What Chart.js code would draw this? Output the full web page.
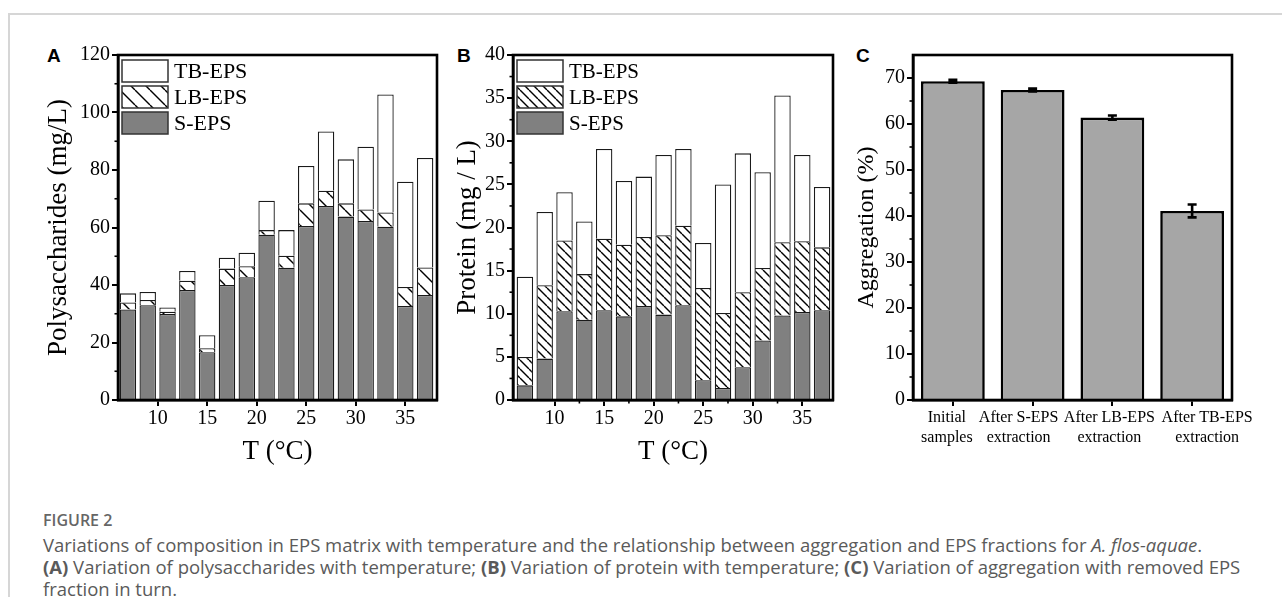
<!DOCTYPE html>
<html>
<head>
<meta charset="utf-8">
<title>EPS composition and aggregation</title>
<script src="https://cdn.jsdelivr.net/npm/chart.js@4.4.1/dist/chart.umd.min.js"></script>
<style>
  body { margin: 0; background: #fff; width: 1282px; height: 597px; overflow: hidden; position: relative; font-family: "Open Sans", "Noto Sans", sans-serif; }
  canvas { position: absolute; top: 0; }
  #frameTop { position: absolute; left: 9px; top: 13px; width: 1273px; height: 2px; background: #d6d6d6; }
  #frameLeft { position: absolute; left: 8px; top: 13px; width: 2px; height: 584px; background: #d6d6d6; }
  .lab { position: absolute; top: 46px; font: bold 19px "Liberation Sans", Arial, sans-serif; color: #000; line-height: 19px; }
  #figno { position: absolute; left: 43px; top: 510px; font-size: 16px; font-weight: 600; color: #666; line-height: 20px; }
  #cap { position: absolute; left: 43px; top: 534px; font-size: 18.5px; line-height: 22px; color: #5a5a5a; white-space: nowrap; }
</style>
</head>
<body>
<div id="frameTop"></div>
<div id="frameLeft"></div>
<div class="lab" style="left:47px">A</div>
<div class="lab" style="left:457px">B</div>
<div class="lab" style="left:856px">C</div>

<canvas id="grafA" width="445" height="480" style="left:0px"></canvas>
<canvas id="grafB" width="410" height="480" style="left:430px"></canvas>
<canvas id="grafC" width="442" height="480" style="left:840px"></canvas>

<div id="figno">FIGURE 2</div>
<div id="cap">Variations of composition in EPS matrix with temperature and the relationship between aggregation and EPS fractions for <i>A. flos-aquae</i>.<br><b>(A)</b> Variation of polysaccharides with temperature; <b>(B)</b> Variation of protein with temperature; <b>(C)</b> Variation of aggregation with removed EPS<br>fraction in turn.</div>

<script>
// temperaturas (°C)
var temps = [7, 9, 11, 13, 15, 17, 19, 21, 23, 25, 27, 29, 31, 33, 35, 37];
var tempTicks = [10, 15, 20, 25, 30, 35];

// Gráfico A - polissacarídeos (mg/L), cada fração empilhada
var polyS  = [31.5, 33.0, 29.9, 38.3, 16.6, 40.0, 42.7, 57.5, 46.0, 60.5, 67.5, 63.8, 62.3, 60.3, 32.7, 36.5];
var polyLB = [2.4, 1.8, 0.8, 3.2, 1.4, 5.7, 3.8, 1.6, 4.2, 7.9, 5.3, 4.6, 4.0, 4.9, 6.6, 9.6];
var polyTB = [3.2, 2.8, 1.5, 3.4, 4.5, 3.8, 4.7, 10.2, 8.9, 13.0, 20.6, 15.3, 21.8, 41.1, 36.6, 38.1];
var polyTicks = [0, 20, 40, 60, 80, 100, 120];

// Gráfico B - proteína (mg / L)
var protS  = [1.7, 4.8, 10.3, 9.3, 10.4, 9.7, 10.9, 9.9, 11.0, 2.3, 1.4, 3.8, 6.9, 9.8, 10.2, 10.4];
var protLB = [3.3, 8.5, 8.2, 5.3, 8.3, 8.3, 8.0, 9.2, 9.2, 10.7, 8.7, 8.7, 8.4, 8.5, 8.2, 7.3];
var protTB = [9.3, 8.5, 5.6, 6.1, 10.4, 7.4, 7.0, 9.3, 8.9, 5.2, 14.9, 16.1, 11.1, 17.0, 10.0, 7.0];
var protTicks = [0, 5, 10, 15, 20, 25, 30, 35, 40];

// Gráfico C - agregação (%)
var aggLabels = [["Initial", "samples"], ["After S-EPS", "extraction"], ["After LB-EPS", "extraction"], ["After TB-EPS", "extraction"]];
var aggValues = [69.3, 67.4, 61.4, 41.1];
var aggErrors = [0.3, 0.3, 0.45, 1.4];
var aggTicks = [0, 10, 20, 30, 40, 50, 60, 70];

var serif = "'Liberation Serif', 'Times New Roman', serif";

// hachura "\" para LB-EPS
function hatch(ctx, step) {
  var c = document.createElement('canvas');
  c.width = step; c.height = step;
  var x = c.getContext('2d');
  x.fillStyle = '#fff';
  x.fillRect(0, 0, step, step);
  x.strokeStyle = '#000';
  x.lineWidth = 1.4;
  for (var k = -1; k <= 1; k++) {
    x.beginPath();
    x.moveTo(k * step, 0);
    x.lineTo(k * step + step, step);
    x.stroke();
  }
  return ctx.createPattern(c, 'repeat');
}

// moldura em volta da área do gráfico
var frame = {
  id: 'frame',
  afterDraw: function (chart) {
    var a = chart.chartArea, ctx = chart.ctx;
    ctx.save();
    ctx.strokeStyle = '#000';
    ctx.lineWidth = 2.6;
    ctx.strokeRect(a.left, a.top, a.right - a.left, a.bottom - a.top);
    ctx.restore();
  }
};

// marcas menores nos eixos
var minorTicks = {
  id: 'minorTicks',
  afterDraw: function (chart, args, opts) {
    var ctx = chart.ctx, a = chart.chartArea;
    ctx.save();
    ctx.strokeStyle = '#000';
    ctx.lineWidth = 1.6;
    (opts.y || []).forEach(function (v) {
      var p = chart.scales.y.getPixelForValue(v);
      ctx.beginPath(); ctx.moveTo(a.left, p); ctx.lineTo(a.left - 3.5, p); ctx.stroke();
    });
    (opts.x || []).forEach(function (v) {
      var p = chart.scales.x.getPixelForValue(v);
      ctx.beginPath(); ctx.moveTo(p, a.bottom); ctx.lineTo(p, a.bottom + 3.5); ctx.stroke();
    });
    ctx.restore();
  }
};

// legenda com caixas dentro do gráfico
var boxLegend = {
  id: 'boxLegend',
  afterDraw: function (chart, args, opts) {
    var ctx = chart.ctx, a = chart.chartArea, ds = chart.data.datasets;
    ctx.save();
    ctx.font = opts.size + 'px ' + serif;
    ctx.textBaseline = 'middle';
    [2, 1, 0].forEach(function (di, row) {
      var x = a.left + opts.dx, y = a.top + opts.dy + row * opts.gap;
      ctx.fillStyle = ds[di].backgroundColor;
      ctx.fillRect(x, y, opts.w, opts.h);
      ctx.strokeStyle = '#333';
      ctx.lineWidth = 1.5;
      ctx.strokeRect(x, y, opts.w, opts.h);
      ctx.fillStyle = '#000';
      ctx.fillText(ds[di].label, x + opts.w + 6, y + opts.h / 2 + 1);
    });
    ctx.restore();
  }
};

// barras de erro
var errorBars = {
  id: 'errorBars',
  afterDatasetsDraw: function (chart, args, opts) {
    var ctx = chart.ctx, y = chart.scales.y, meta = chart.getDatasetMeta(0);
    var vals = chart.data.datasets[0].data;
    ctx.save();
    ctx.strokeStyle = '#000';
    ctx.lineWidth = 2.6;
    meta.data.forEach(function (bar, i) {
      var t = y.getPixelForValue(vals[i] + opts.errors[i]);
      var b = y.getPixelForValue(vals[i] - opts.errors[i]);
      ctx.beginPath();
      ctx.moveTo(bar.x, t); ctx.lineTo(bar.x, b);
      ctx.moveTo(bar.x - 4.5, t); ctx.lineTo(bar.x + 4.5, t);
      ctx.moveTo(bar.x - 4.5, b); ctx.lineTo(bar.x + 4.5, b);
      ctx.stroke();
    });
    ctx.restore();
  }
};

// rótulos do eixo x do gráfico C, um pouco deslocados como no original
var shiftedLabels = {
  id: 'shiftedLabels',
  afterDraw: function (chart, args, opts) {
    var ctx = chart.ctx, sx = chart.scales.x, bottom = chart.chartArea.bottom;
    ctx.save();
    ctx.font = '16px ' + serif;
    ctx.fillStyle = '#000';
    ctx.textAlign = 'center';
    ctx.textBaseline = 'middle';
    chart.data.labels.forEach(function (lines, i) {
      var px = sx.getPixelForValue(i) + opts.shift[i];
      lines.forEach(function (line, j) {
        ctx.fillText(line, px, bottom + 18 + j * 20);
      });
    });
    ctx.restore();
  }
};

function halfSteps(ticks) {
  var out = [];
  for (var i = 0; i < ticks.length - 1; i++) out.push((ticks[i] + ticks[i + 1]) / 2);
  return out;
}

function stackedChart(id, sVals, lbVals, tbVals, yTicks, yTitle, o) {
  var ctx = document.getElementById(id).getContext('2d');
  return new Chart(ctx, {
    type: 'bar',
    data: {
      labels: temps,
      datasets: [
        { label: 'S-EPS', data: sVals, backgroundColor: '#808080', borderColor: '#1a1a1a', borderWidth: 1.3 },
        { label: 'LB-EPS', data: lbVals, backgroundColor: hatch(ctx, o.hatch), borderColor: '#1a1a1a', borderWidth: 1.3 },
        { label: 'TB-EPS', data: tbVals, backgroundColor: '#fff', borderColor: '#1a1a1a', borderWidth: 1.3 }
      ]
    },
    options: {
      responsive: false,
      animation: false,
      devicePixelRatio: 1,
      layout: { padding: { top: 55, right: o.right, left: 0, bottom: 0 } },
      datasets: { bar: { barPercentage: 1, categoryPercentage: 0.83 } },
      scales: {
        x: {
          type: 'linear', stacked: true, offset: false,
          min: o.xmin, max: o.xmax,
          afterBuildTicks: function (s) { s.ticks = tempTicks.map(function (v) { return { value: v }; }); },
          afterFit: function (s) { s.height = 80; },
          grid: { drawOnChartArea: false, color: '#000', lineWidth: 2, tickLength: 6, offset: false },
          border: { display: true, color: '#000', width: 2.6 },
          ticks: { color: '#000', font: { family: serif, size: 20 }, padding: 1, maxRotation: 0 },
          title: { display: true, text: 'T (°C)', color: '#000', font: { family: serif, size: 27 }, padding: { top: 0, bottom: 12 } }
        },
        y: {
          stacked: true, min: yTicks[0], max: yTicks[yTicks.length - 1],
          afterBuildTicks: function (s) { s.ticks = yTicks.map(function (v) { return { value: v }; }); },
          afterFit: function (s) { s.width = o.yw; },
          grid: { drawOnChartArea: false, color: '#000', lineWidth: 2, tickLength: 6 },
          border: { display: true, color: '#000', width: 2.6 },
          ticks: { color: '#000', font: { family: serif, size: 20 }, padding: 2 },
          title: { display: true, text: yTitle, color: '#000', font: { family: serif, size: 27 }, padding: { top: o.tpad, bottom: 0 } }
        }
      },
      plugins: {
        legend: { display: false },
        tooltip: { enabled: false },
        minorTicks: { y: halfSteps(yTicks), x: o.minorX ? halfSteps(tempTicks) : [] },
        boxLegend: { dx: 4, dy: 5, gap: 26, w: 46, h: 22, size: o.legSize }
      }
    },
    plugins: [frame, minorTicks, boxLegend]
  });
}

// Gráfico A
stackedChart('grafA', polyS, polyLB, polyTB, polyTicks, 'Polysaccharides (mg/L)',
  { right: 8, yw: 118, xmin: 6, xmax: 38.2, tpad: 43, hatch: 15, legSize: 22, minorX: false });

// Gráfico B
stackedChart('grafB', protS, protLB, protTB, protTicks, 'Protein (mg / L)',
  { right: 7, yw: 83, xmin: 5.8, xmax: 38.1, tpad: 22, hatch: 9, legSize: 21, minorX: true });

// Gráfico C
new Chart(document.getElementById('grafC'), {
  type: 'bar',
  data: {
    labels: aggLabels,
    datasets: [{
      label: 'Aggregation',
      data: aggValues,
      backgroundColor: '#a6a6a6',
      borderColor: '#000',
      borderWidth: 2.6,
      barPercentage: 1,
      categoryPercentage: 0.8
    }]
  },
  options: {
    responsive: false,
    animation: false,
    devicePixelRatio: 1,
    layout: { padding: { top: 55, right: 50, left: 0, bottom: 0 } },
    scales: {
      x: {
        afterFit: function (s) { s.height = 80; },
        grid: { drawOnChartArea: false, color: '#000', lineWidth: 2, tickLength: 6, offset: false },
        border: { display: true, color: '#000', width: 2.6 },
        ticks: { color: 'rgba(0,0,0,0)', font: { family: serif, size: 16, lineHeight: 1.25 }, padding: 2, maxRotation: 0, autoSkip: false }
      },
      y: {
        min: 0, max: 75,
        afterBuildTicks: function (s) { s.ticks = aggTicks.map(function (v) { return { value: v }; }); },
        afterFit: function (s) { s.width = 73; },
        grid: { drawOnChartArea: false, color: '#000', lineWidth: 2, tickLength: 6 },
        border: { display: true, color: '#000', width: 2.6 },
        ticks: { color: '#000', font: { family: serif, size: 20 }, padding: 2 },
        title: { display: true, text: 'Aggregation (%)', color: '#000', font: { family: serif, size: 24 }, padding: { top: 12, bottom: 0 } }
      }
    },
    plugins: {
      legend: { display: false },
      tooltip: { enabled: false },
      minorTicks: { y: halfSteps(aggTicks) },
      errorBars: { errors: aggErrors },
      shiftedLabels: { shift: [-6, -14, -3, 15] }
    }
  },
  plugins: [frame, minorTicks, errorBars, shiftedLabels]
});
</script>
</body>
</html>
